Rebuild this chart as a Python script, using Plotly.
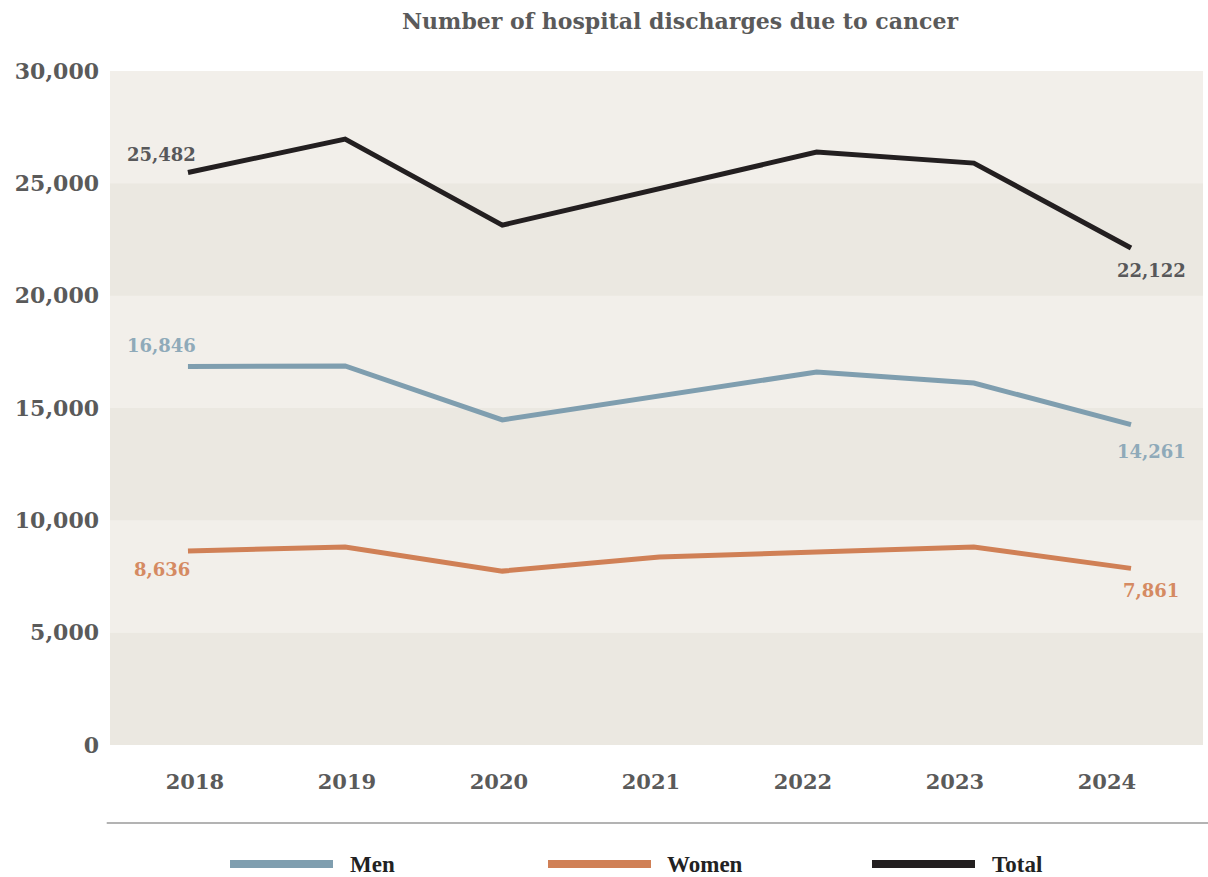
import plotly.graph_objects as go

# --- data -------------------------------------------------------------
years = [2018, 2019, 2020, 2021, 2022, 2023, 2024]
men = [16846, 16870, 14470, 15530, 16600, 16110, 14261]
women = [8636, 8810, 7740, 8370, 8590, 8810, 7861]
total = [25482, 26970, 23140, 24770, 26390, 25900, 22122]

series_names = ["Men", "Women", "Total"]
y_ticks = [0, 5000, 10000, 15000, 20000, 25000, 30000]
y_tick_text = ["0", "5,000", "10,000", "15,000", "20,000", "25,000", "30,000"]

# --- style ------------------------------------------------------------
SERIF = "DejaVu Serif"
LEGEND_FONT = "Liberation Serif"
GREY_TEXT = "#5a5a5a"
colors = {"Men": "#7f9eaf", "Women": "#d08056", "Total": "#231f20"}
label_colors = {"Men": "#8faab9", "Women": "#d58a62", "Total": "#58585a"}
band_light = "#f2efea"
band_dark = "#ebe8e1"

fig = go.Figure()

values = {"Men": men, "Women": women, "Total": total}
for name in series_names:
    fig.add_trace(go.Scatter(
        x=years, y=values[name], mode="lines", name=name,
        line=dict(color=colors[name], width=5),
        showlegend=False, hoverinfo="skip", xaxis="x", yaxis="y",
    ))

# invisible trace carrying the category tick axis
fig.add_trace(go.Scatter(
    x=years, y=[None] * len(years), mode="lines", showlegend=False,
    hoverinfo="skip", xaxis="x2", yaxis="y",
))

# alternating horizontal bands
for i in range(len(y_ticks) - 1):
    fig.add_shape(
        type="rect", xref="paper", yref="y", x0=0, x1=1,
        y0=y_ticks[i], y1=y_ticks[i + 1],
        fillcolor=band_dark if i % 2 == 0 else band_light,
        line=dict(width=0), layer="below",
    )

# first / last value labels: (xshift, yshift) offsets from the point
label_offsets = {
    "Total": ((-26, 18), (20, -23)),
    "Men": ((-26, 21), (20, -27)),
    "Women": ((-26, -19), (20, -22)),
}
for name in series_names:
    vals = values[name]
    for idx, (dx, dy) in zip((0, -1), label_offsets[name]):
        fig.add_annotation(
            x=years[idx], y=vals[idx], xref="x", yref="y",
            text=f"{vals[idx]:,}", showarrow=False,
            xanchor="center", yanchor="middle", xshift=dx, yshift=dy,
            font=dict(family=SERIF, size=18, color=label_colors[name],
                      weight="bold"),
        )

# separator above the legend
fig.add_shape(type="line", xref="paper", yref="paper",
              x0=-0.003, x1=1.01, y0=-0.1157, y1=-0.1157,
              line=dict(color="#9a9a9a", width=1.5))

# legend drawn as swatches + labels
plot_left, plot_width = 110, 1093
legend_items = [(230, 333, 348), (548, 651, 665), (872, 975, 990)]
legend_y = -0.1766
for name, (s0, s1, tx) in zip(series_names, legend_items):
    fig.add_shape(type="line", xref="paper", yref="paper",
                  x0=(s0 - plot_left) / plot_width,
                  x1=(s1 - plot_left) / plot_width,
                  y0=legend_y, y1=legend_y,
                  line=dict(color=colors[name], width=8))
    fig.add_annotation(
        x=(tx - plot_left) / plot_width, y=legend_y,
        xref="paper", yref="paper", text=name, showarrow=False,
        xanchor="left", yanchor="middle",
        font=dict(family=LEGEND_FONT, size=23, color="#222222",
                  weight="bold"),
    )

fig.update_layout(
    width=1208, height=877,
    margin=dict(l=110, r=5, t=71, b=132),
    paper_bgcolor="white", plot_bgcolor=band_light,
    title=dict(
        text="Number of hospital discharges due to cancer",
        x=680 / 1208, xanchor="center", xref="container",
        y=1 - 21 / 877, yanchor="middle", yref="container",
        font=dict(family=SERIF, size=22, color=GREY_TEXT, weight="bold"),
    ),
    xaxis=dict(
        range=[2018 - 0.496, 2024 + 0.458], showticklabels=False,
        showgrid=False, zeroline=False, showline=False, fixedrange=True,
    ),
    xaxis2=dict(
        overlaying="x", anchor="y", side="bottom",
        range=[2018 - 0.559, 2024 + 0.632],
        tickmode="array", tickvals=years, ticktext=[str(y) for y in years],
        showgrid=False, zeroline=False, showline=False, ticks="",
        ticklabelstandoff=22,
        tickfont=dict(family=SERIF, size=21, color=GREY_TEXT, weight="bold"),
    ),
    yaxis=dict(
        range=[0, 30000], tickmode="array", tickvals=y_ticks,
        ticktext=y_tick_text, showgrid=False, zeroline=False,
        showline=False, ticks="", ticklabelstandoff=10,
        tickfont=dict(family=SERIF, size=22, color=GREY_TEXT, weight="bold"),
    ),
)

fig.write_html("out.html")
